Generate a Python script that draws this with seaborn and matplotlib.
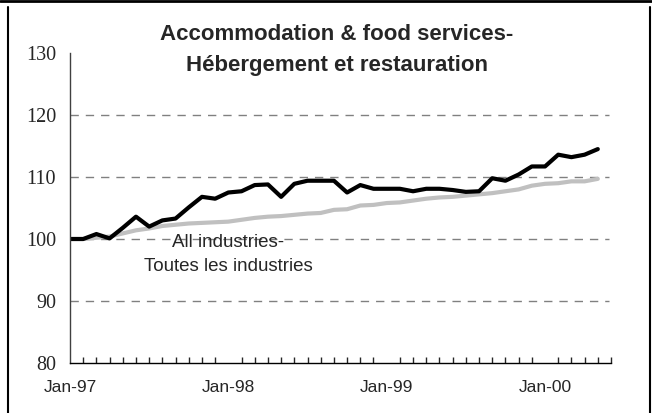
import pandas as pd
import matplotlib.pyplot as plt
import seaborn as sns
from matplotlib.ticker import FixedLocator, MultipleLocator

# Monthly index, Jan-97 .. May-00 (base Jan-97 = 100)
month = list(range(41))
year_ticks = [0, 12, 24, 36]
year_labels = ['Jan-97', 'Jan-98', 'Jan-99', 'Jan-00']

accommodation = [100.0, 100.0, 100.8, 100.1, 101.8, 103.6, 102.0, 103.0, 103.3, 105.1,
                 106.8, 106.5, 107.5, 107.7, 108.7, 108.8, 106.8, 108.9, 109.4, 109.4,
                 109.4, 107.5, 108.7, 108.1, 108.1, 108.1, 107.7, 108.1, 108.1, 107.9,
                 107.6, 107.7, 109.8, 109.4, 110.4, 111.7, 111.7, 113.6, 113.2, 113.6,
                 114.5]
all_industries = [100.0, 100.0, 100.2, 100.4, 100.9, 101.4, 101.7, 102.1, 102.3, 102.5,
                  102.6, 102.7, 102.8, 103.1, 103.4, 103.6, 103.7, 103.9, 104.1, 104.2,
                  104.7, 104.8, 105.4, 105.5, 105.8, 105.9, 106.2, 106.5, 106.7, 106.8,
                  107.0, 107.2, 107.4, 107.7, 108.0, 108.6, 108.9, 109.0, 109.3, 109.3,
                  109.7]

df = pd.DataFrame({'month': month,
                   'Accommodation': accommodation,
                   'All industries': all_industries})

sns.set_style('white')
plt.rcParams['font.family'] = ['Liberation Sans', 'DejaVu Sans']

fig = plt.figure(figsize=(6.52, 4.13), dpi=100)
ax = fig.add_axes([70 / 652, 1 - 363 / 413, 541 / 652, 310 / 413])

# dashed gridlines at 90..120
for g in [90, 100, 110, 120]:
    ax.axhline(g, xmin=0, xmax=539 / 541, color='#808080', lw=1, dashes=(6, 5), zorder=0)

sns.lineplot(data=df, x='month', y='All industries', color='#c0c0c0', lw=3, ax=ax)
sns.lineplot(data=df, x='month', y='Accommodation', color='black', lw=3, ax=ax)

ax.set_xlim(0, 41)
ax.set_ylim(80, 130)
ax.set_xlabel('')
ax.set_ylabel('')

for s in ['top', 'right']:
    ax.spines[s].set_visible(False)
ax.spines['left'].set_color('#404040')
ax.spines['bottom'].set_color('black')
ax.spines['left'].set_linewidth(1)
ax.spines['bottom'].set_linewidth(1)

ax.set_yticks([80, 90, 100, 110, 120, 130])
ax.tick_params(axis='y', direction='out', length=5, width=1, color='#404040', pad=5,
               labelsize=14.5, labelfontfamily='Liberation Serif')

ax.xaxis.set_major_locator(FixedLocator(year_ticks))
ax.set_xticklabels(year_labels)
ax.xaxis.set_minor_locator(MultipleLocator(1))
ax.tick_params(axis='x', which='major', direction='out', length=5, width=1, pad=7,
               labelsize=12.5)
ax.tick_params(axis='x', which='minor', direction='in', length=4, width=1, bottom=True)

fig.text(0.517, 1 - 35 / 413, 'Accommodation & food services-', ha='center', va='center',
         fontsize=16, fontweight='bold')
fig.text(0.517, 1 - 66 / 413, 'Hébergement et restauration', ha='center', va='center',
         fontsize=16, fontweight='bold')

ax.text(12.0, 99.5, 'All industries-', ha='center', va='center', fontsize=13.5)
ax.text(12.0, 95.5, 'Toutes les industries', ha='center', va='center', fontsize=13.5)

# outer chart border
fig.add_artist(plt.Line2D([8 / 652, 8 / 652], [0, 1 - 7 / 413], transform=fig.transFigure,
                          color='black', lw=1.5))
fig.add_artist(plt.Line2D([650 / 652, 650 / 652], [0, 1 - 7 / 413], transform=fig.transFigure,
                          color='black', lw=1.5))
fig.add_artist(plt.Line2D([0, 1], [1 - 1 / 413, 1 - 1 / 413], transform=fig.transFigure,
                          color='black', lw=2))

fig.savefig('out.png', dpi=100)
